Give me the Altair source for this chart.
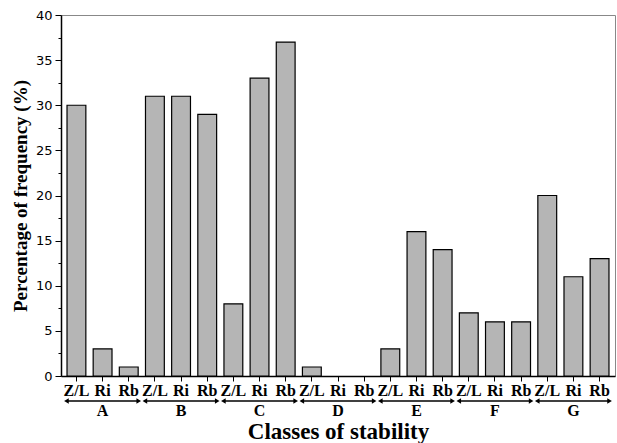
import altair as alt
import pandas as pd

groups = ["A", "B", "C", "D", "E", "F", "G"]
subs = ["Z/L", "Ri", "Rb"]
values = [
    [30, 3, 1],
    [31, 31, 29],
    [8, 33, 37],
    [1, 0, 0],
    [3, 16, 14],
    [7, 6, 6],
    [20, 11, 13],
]

rows = []
for g, vals in zip(groups, values):
    for s, v in zip(subs, vals):
        rows.append({"key": f"{g}|{s}", "group": g, "sub": s, "value": v})
df = pd.DataFrame(rows)
order = list(df["key"])

gdf = pd.DataFrame({
    "group": groups,
    "start": [f"{g}|Z/L" for g in groups],
    "mid": [f"{g}|Ri" for g in groups],
    "end": [f"{g}|Rb" for g in groups],
})

W, H = 554, 361
serif = "Times New Roman, Liberation Serif, serif"

xscale = alt.Scale(domain=order, paddingInner=0.28, paddingOuter=0.23)

bars = alt.Chart(df).mark_bar(
    fill="#b5b5b5", stroke="black", strokeWidth=1.2
).encode(
    x=alt.X("key:N", scale=xscale, sort=order, title="Classes of stability",
            axis=alt.Axis(labelExpr="split(datum.label, '|')[1]", labelAngle=0)),
    y=alt.Y("value:Q", scale=alt.Scale(domain=[0, 40], nice=False),
            title="Percentage of frequency (%)",
            axis=alt.Axis(values=[i * 2.5 for i in range(17)],
                          labelExpr="datum.value % 5 === 0 ? datum.label : ''",
                          tickSize={"condition": {"test": "datum.value % 5 === 0", "value": 6}, "value": 3})),
    strokeOpacity=alt.condition("datum.value > 0", alt.value(1), alt.value(0)),
)

arrow = alt.Chart(gdf).mark_rule(color="black", strokeWidth=1.3, xOffset=-10, x2Offset=10).encode(
    x=alt.X("start:N", scale=xscale, sort=order),
    x2="end:N",
    y=alt.value(H + 25),
)
left_head = alt.Chart(gdf).mark_point(shape="triangle-left", filled=True, color="black",
                                       size=28, xOffset=-10, opacity=1).encode(
    x=alt.X("start:N", scale=xscale, sort=order),
    y=alt.value(H + 25),
)
right_head = alt.Chart(gdf).mark_point(shape="triangle-right", filled=True, color="black",
                                        size=28, xOffset=10, opacity=1).encode(
    x=alt.X("end:N", scale=xscale, sort=order),
    y=alt.value(H + 25),
)
glabel = alt.Chart(gdf).mark_text(font=serif, fontWeight="bold", fontSize=16,
                                  color="black", baseline="middle").encode(
    x=alt.X("mid:N", scale=xscale, sort=order),
    y=alt.value(H + 35),
    text="group:N",
)

chart = alt.layer(bars, arrow, left_head, right_head, glabel).properties(
    width=W, height=H,
    autosize=alt.AutoSizeParams(type="none"),
    padding={"left": 61, "top": 15, "right": 2, "bottom": 67},
).configure_view(stroke="#888888", strokeWidth=1).configure_axis(
    domainColor="black", domainWidth=1.5,
    tickColor="black", tickWidth=1, grid=False,
    labelColor="black", titleColor="black",
    titleFont=serif, titleFontWeight="bold",
).configure_axisX(
    labelFont=serif, labelFontWeight="bold", labelFontSize=16,
    labelPadding=1, tickSize=5,
    titleFontSize=23, titlePadding=22,
).configure_axisY(
    labelFont="DejaVu Sans", labelFontSize=13, labelPadding=3,
    titleFontSize=19, titlePadding=5,
)

chart.save("out.html", embed_options={"renderer": "svg", "actions": False})
